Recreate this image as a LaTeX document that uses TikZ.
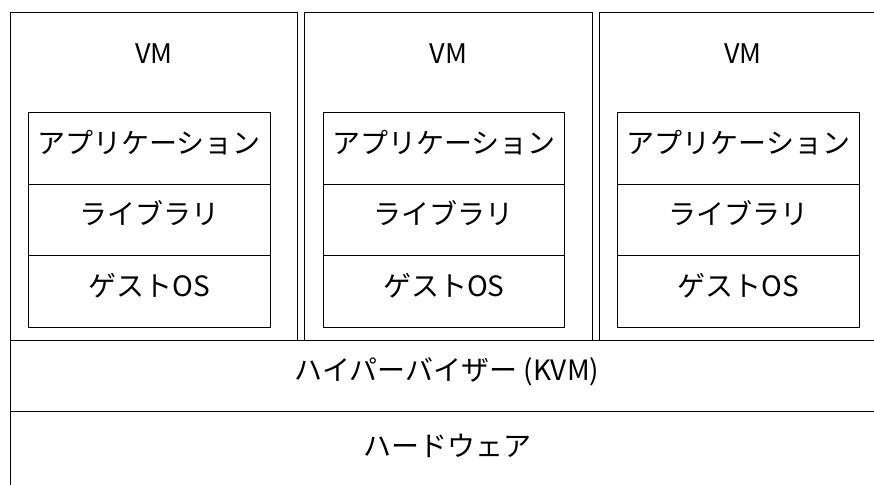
\documentclass[tikz,border=0pt]{standalone}
\usepackage{fontspec}
\newfontfamily\jp{Noto Sans CJK JP}
\usetikzlibrary{positioning}
\tikzset{
  basic/.style = {draw, line width=1pt, inner sep=0pt, outer sep=0pt,
                  font=\jp\fontsize{28}{32}\selectfont, align=center},
  vm/.style    = {basic, minimum width=287.5pt, minimum height=327pt},
  layer/.style = {basic, minimum width=241.5pt, minimum height=71.5pt,
                  text height=21pt, text depth=11pt},
  base/.style  = {basic, minimum width=874pt, minimum height=71pt,
                  text height=21pt, text depth=11pt},
  title/.style = {font=\jp\fontsize{27}{32}\selectfont, inner sep=0pt},
}

\begin{document}
\begin{tikzpicture}[x=1pt, y=-1pt]
\clip (0,0) rectangle (874,484);

% VM boxes
\node[vm, anchor=north west] (vm1) at (10,13) {};
\node[vm, right=7pt of vm1] (vm2) {};
\node[vm, right=7pt of vm2] (vm3) {};

% inside each VM
\foreach \i in {1,2,3} {
  \node[title] (t\i) at ([yshift=-41pt]vm\i.north) {VM};
  \node[layer, anchor=north west] (app\i) at ([xshift=18.5pt, yshift=-99.5pt]vm\i.north west) {アプリケーション};
  \node[layer, below=0pt of app\i] (lib\i) {ライブラリ};
  \node[layer, below=0pt of lib\i] (os\i) {ゲストOS};
}

% lower layers
\node[base, anchor=north west] (hv) at (10,340) {ハイパーバイザー (KVM)};
\node[base, below=0pt of hv, minimum height=80pt] (hw) {ハードウェア};

\end{tikzpicture}
\end{document}
